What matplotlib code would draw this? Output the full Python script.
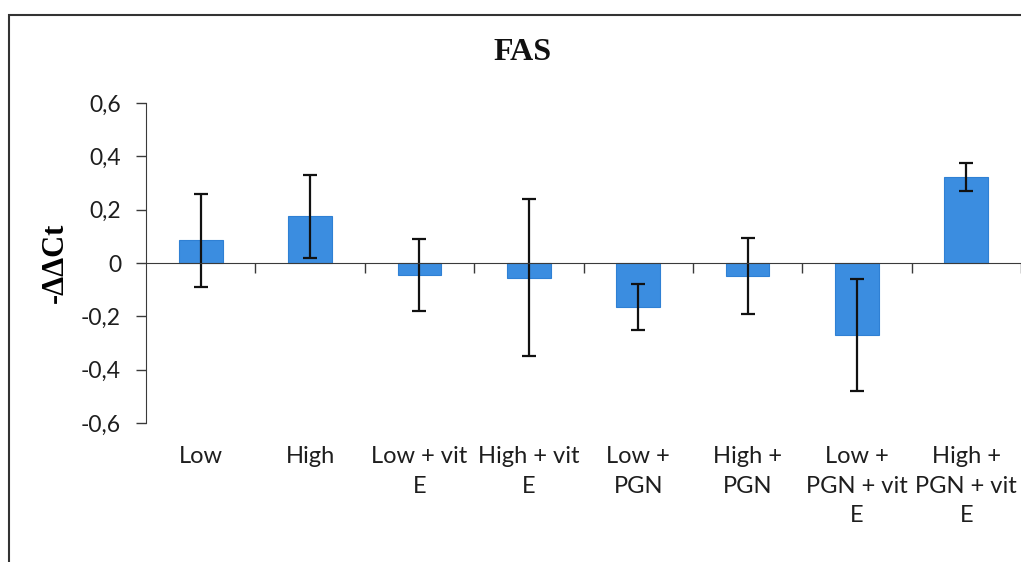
import matplotlib.pyplot as plt
from matplotlib.patches import Rectangle
from matplotlib.ticker import FuncFormatter, FixedLocator
import matplotlib.transforms as mtransforms
import numpy as np

# Dados de expressão do gene FAS (-ΔΔCt) e desvios
grupos = ['Low', 'High', 'Low + vit\nE', 'High + vit\nE', 'Low +\nPGN',
          'High +\nPGN', 'Low +\nPGN + vit\nE', 'High +\nPGN + vit\nE']
medias = [0.085, 0.175, -0.045, -0.055, -0.165, -0.048, -0.27, 0.322]
erros = [0.175, 0.155, 0.135, 0.295, 0.085, 0.143, 0.21, 0.053]

plt.rcParams['font.family'] = ['Lato', 'DejaVu Sans']

fig = plt.figure(figsize=(10.21, 5.62), dpi=100)
ax = fig.add_axes([0.143, 0.2473, 0.857, 0.5694])

x = np.arange(len(grupos))
ax.bar(x, medias, width=0.4, color='#3b8de0', edgecolor='#2f80d4', linewidth=0.8,
       yerr=erros, capsize=4.7,
       error_kw=dict(elinewidth=1.6, capthick=1.6, ecolor='#111111'))

ax.set_xlim(-0.5, len(grupos) - 0.5)
ax.set_ylim(-0.6, 0.6)
ax.set_yticks([-0.6, -0.4, -0.2, 0, 0.2, 0.4, 0.6])
ax.yaxis.set_major_formatter(FuncFormatter(lambda v, p: ('%g' % round(v, 1)).replace('.', ',')))

# eixo x passando pelo zero, com marcas entre as categorias
for lado in ['top', 'right']:
    ax.spines[lado].set_visible(False)
ax.spines['bottom'].set_position(('data', 0))
ax.spines['bottom'].set_color('#3a3a3a')
ax.spines['left'].set_color('#3a3a3a')
ax.xaxis.set_major_locator(FixedLocator(np.arange(0.5, len(grupos), 1.0)))
ax.tick_params(axis='x', direction='out', length=7, width=1, color='#3a3a3a',
               labelbottom=False)
ax.tick_params(axis='y', direction='out', length=7, width=1, color='#3a3a3a',
               labelsize=16.5, pad=11, labelcolor='#1e1e1e')

# nomes dos grupos abaixo do gráfico
trans = mtransforms.blended_transform_factory(ax.transData, ax.transAxes)
for xi, nome in zip(x, grupos):
    ax.text(xi, -0.072, nome, transform=trans, ha='center', va='top',
            fontsize=17, linespacing=1.5, color='#1e1e1e')

ax.set_ylabel('-ΔΔCt', family='Liberation Serif', fontweight='bold', fontsize=22)
ax.yaxis.set_label_coords(-0.087, 0.5)

fig.text(0.512, 1 - 52 / 562, 'FAS', family='Liberation Serif', fontweight='bold',
         fontsize=23, ha='center', va='center', color='#111111')

# moldura do gráfico
fig.add_artist(Rectangle((0.0093, -0.1), 2, 1.0733, transform=fig.transFigure,
                         fill=False, linewidth=1.5, edgecolor='#333333'))

plt.savefig('out.png', dpi=100)
